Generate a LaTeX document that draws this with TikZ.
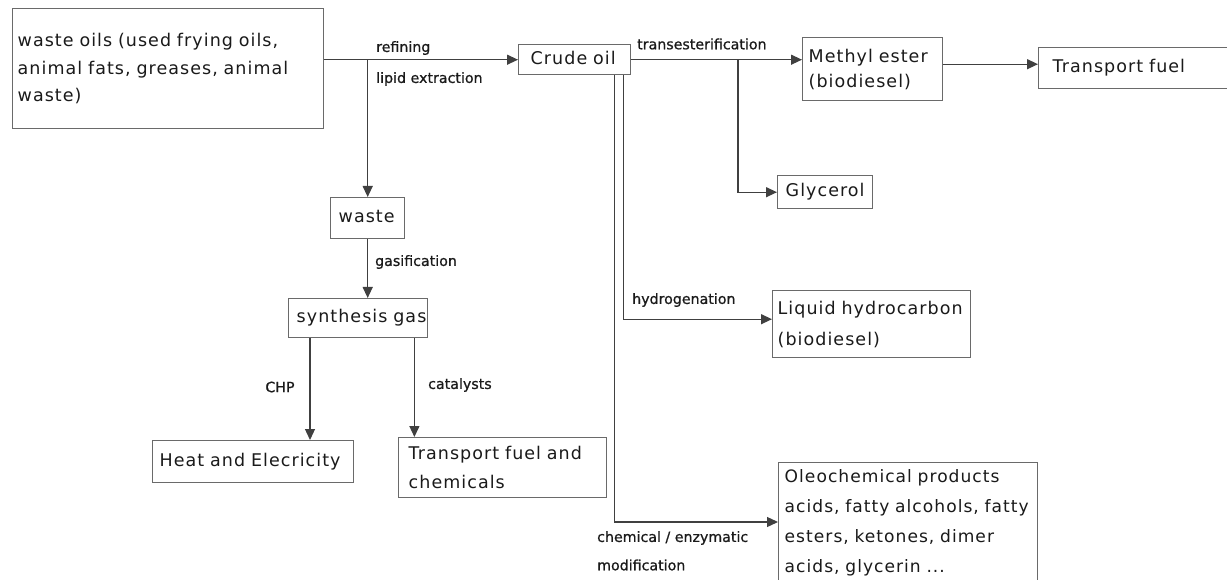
\documentclass[tikz,border=0pt]{standalone}
\usepackage{fontspec}
\newfontfamily\boxfont{DejaVu Sans}[LetterSpace=6]
\newfontfamily\lblfont{DejaVu Sans}[FakeBold=0.8]
\usetikzlibrary{arrows.meta,calc}
\definecolor{linec}{HTML}{404040}
\definecolor{boxc}{HTML}{6A6A6A}
\definecolor{txt}{HTML}{1A1A1A}
\hyphenpenalty=10000\relax
\exhyphenpenalty=10000\relax
\tikzset{
  box/.style={draw=boxc, line width=1.4pt, fill=white, anchor=north west, align=left,
    inner ysep=0pt, text=txt, font=\boxfont\fontsize{17.5}{27.5}\selectfont},
  one/.style={text height=13pt, text depth=4pt},
  conn/.style={draw=linec, line width=1.3pt},
  arr/.style={conn, -{Triangle[length=11pt,width=10pt]}},
  lbl/.style={text=txt, font=\lblfont\fontsize{14.2}{16}\selectfont, inner sep=0pt},
}
\begin{document}
\begin{tikzpicture}[x=1pt,y=-1pt]
\useasboundingbox (0,0) rectangle (1227,580);
% boxes
\node[box, minimum width=311, minimum height=120, inner xsep=5, text width=301] (wo) at (12,8)
  {waste~oils~(used~frying~oils,\\animal~fats,~greases,~animal\\waste)};
\node[box, one, minimum width=112, minimum height=30, inner xsep=12, text width=88] (crude) at (518,44) {Crude~oil};
\node[box, minimum width=140, minimum height=63, inner xsep=6, text width=128,
  font=\boxfont\fontsize{17.5}{25}\selectfont] (me) at (802,37) {Methyl~ester\\(biodiesel)};
\node[box, one, minimum width=192, minimum height=41, inner xsep=14, text width=164] (tf) at (1038,47) {Transport~fuel};
\node[box, one, minimum width=95, minimum height=33, inner xsep=8, text width=79] (gly) at (777,175) {Glycerol};
\node[box, minimum width=198, minimum height=67, inner xsep=5, text width=188,
  font=\boxfont\fontsize{17.5}{31}\selectfont] (lh) at (772,290) {Liquid~hydrocarbon\\(biodiesel)};
\node[box, minimum width=259, inner xsep=6, inner ysep=7, text width=247,
  font=\boxfont\fontsize{17.1}{30}\selectfont] (olc) at (778,462)
  {Oleochemical~products\\acids,~fatty~alcohols,~fatty\\esters,~ketones,~dimer\\acids,~glycerin~...};
\node[box, one, minimum width=74, minimum height=41, inner xsep=8, text width=58] (waste) at (330,197) {waste};
\node[box, one, minimum width=139, minimum height=39, inner xsep=8, text width=123] (syn) at (288,298) {synthesis~gas};
\node[box, one, minimum width=201, minimum height=42, inner xsep=7, text width=187] (heat) at (152,440) {Heat~and~Elecricity};
\node[box, minimum width=208, minimum height=60, inner xsep=10, text width=188,
  font=\boxfont\fontsize{17.5}{29}\selectfont] (tfc) at (398,437) {Transport~fuel~and\\chemicals};
% coordinates
\coordinate (tb) at ($(crude.east -| gly.west)+(-39,0)$);
\coordinate (m1) at ($(me.east)+(0,-5)$);
\coordinate (c1) at ($(crude.south east)+(-8,0)$);
\coordinate (c2) at ($(crude.south east)+(-17,0)$);
\coordinate (h1) at ($(lh.west)+(0,-5)$);
\coordinate (o1) at ($(olc.north west)+(0,60)$);
\coordinate (s1) at ($(syn.south west)+(22,0)$);
\coordinate (s2) at ($(syn.south east)+(-14,0)$);
% connectors
\draw[arr] (wo.east |- crude.west) -- (crude.west);
\draw[arr] (waste.north |- crude.west) -- (waste.north);
\draw[arr] (waste.south) -- (waste.south |- syn.north);
\draw[arr] (s1) -- (s1 |- heat.north);
\draw[arr] (s2) -- (s2 |- tfc.north);
\draw[arr] (crude.east) -- (crude.east -| me.west);
\draw[arr] (tb) |- (gly.west);
\draw[arr] (m1) -- (m1 -| tf.west);
\draw[arr] (c1) |- (h1);
\draw[arr] (c2) |- (o1);
% labels
\node[lbl, anchor=west] (l1) at (376,48) {refining};
\node[lbl, anchor=west] (l2) at (376,79) {lipid extraction};
\node[lbl, anchor=west] (l3) at (637,44) {transesterification};
\node[lbl, anchor=west] (l4) at (375,262) {gasification};
\node[lbl] (l5) at (280,387) {CHP};
\node[lbl, anchor=west] (l6) at (428,385) {catalysts};
\node[lbl, anchor=west] (l7) at (632,300) {hydrogenation};
\node[lbl, anchor=west] (l8) at (597,538) {chemical / enzymatic};
\node[lbl, anchor=west] (l9) at (597,565) {modification};
\end{tikzpicture}
\end{document}
